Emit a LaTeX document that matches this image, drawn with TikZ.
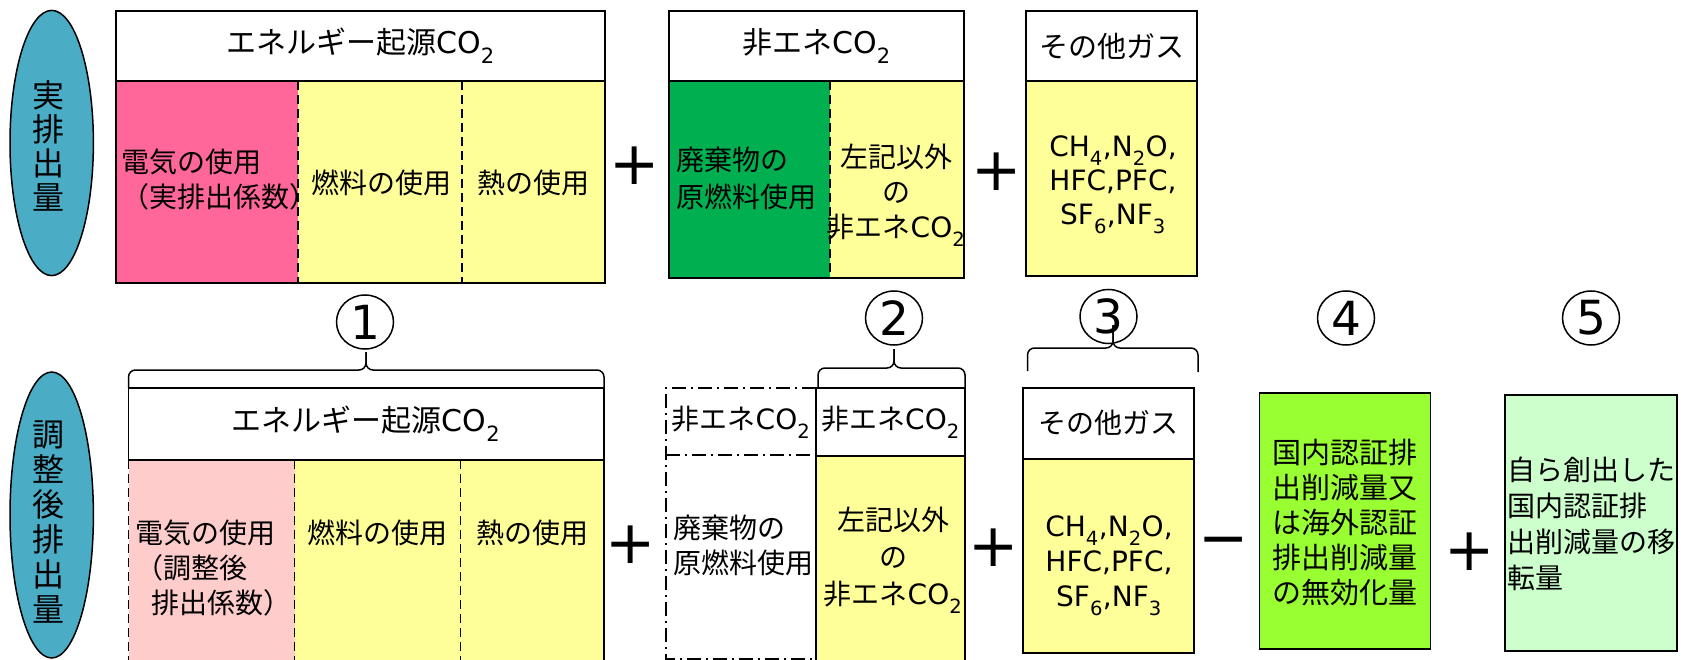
\documentclass[tikz,border=0pt]{standalone}
\usepackage{fontspec}
\usetikzlibrary{shapes.geometric}
\setmainfont{Noto Sans CJK JP}
\newfontfamily\lat{DejaVu Sans}
\definecolor{ellc}{HTML}{4BACC6}
\definecolor{pinkc}{HTML}{FF6699}
\definecolor{yelc}{HTML}{FFFF99}
\definecolor{greenc}{HTML}{00B050}
\definecolor{palepink}{HTML}{FFCCCC}
\definecolor{limec}{HTML}{99FF33}
\definecolor{mintc}{HTML}{CCFFCC}
\newcommand\sbs[1]{\raisebox{-0.1em}{\textsubscript{#1}}}
\begin{document}
\begin{tikzpicture}[x=1pt,y=-1pt,
  box/.style={draw=black,line width=1.8pt},
  dashln/.style={line width=1.5pt,dash pattern=on 9pt off 5pt},
  dashdotln/.style={line width=1.5pt,dash pattern=on 14pt off 5pt on 2pt off 5pt},
  lbl/.style={inner sep=0pt,font=\fontsize{28}{35}\selectfont},
  hdr/.style={inner sep=0pt,font=\fontsize{30}{36}\selectfont},
  hdrs/.style={inner sep=0pt,font=\fontsize{28}{34}\selectfont},
  gas/.style={inner sep=0pt,align=center,font=\lat\fontsize{28}{34}\selectfont},
  vert/.style={inner sep=0pt,align=center,font=\fontsize{32}{34}\selectfont},
  num/.style={ellipse,draw,line width=1.5pt,minimum width=57pt,minimum height=54pt,inner sep=0pt,font=\lat\fontsize{47}{47}\selectfont},
  op/.style={inner sep=0pt,font=\lat\fontsize{60}{60}\selectfont},
  bracel/.style={line width=1.5pt,rounded corners=7pt},
  oval/.style={line width=1.5pt,draw=black,fill=ellc}]
\useasboundingbox (0,0) rectangle (1681,660);
\clip (0,0) rectangle (1681,660);

% ===== top row =====
\draw[oval] (51.7,143) ellipse [x radius=41.7pt,y radius=132.6pt];
\node[vert] (ell1) at (48,146) {実\\排\\出\\量};

% energy CO2
\fill[yelc] (116,81) rectangle (605,283);
\fill[pinkc] (116,81) rectangle (298,283);
\draw[dashln] (298,81) -- (298,283);
\draw[dashln] (462,81) -- (462,283);
\draw[box] (116,11) rectangle (605,81);
\draw[box] (116,81) rectangle (605,283);
\node[hdr] (h1) at (360.5,46) {エネルギー起源{\lat CO\sbs{2}}};
\node[lbl,align=left,anchor=west] (e1a) at (121,180) {電気の使用\\（実排出係数）};
\node[lbl] (e1b) at (381,183) {燃料の使用};
\node[lbl] (e1c) at (533,183) {熱の使用};

\node[op] (p1) at (635,166) {+};

% non-energy CO2
\fill[yelc] (669,81) rectangle (964,278);
\fill[greenc] (669,81) rectangle (830,278);
\draw[dashln] (830,81) -- (830,278);
\draw[box] (669,11) rectangle (964,81);
\draw[box] (669,81) rectangle (964,278);
\node[hdr] (h2) at (816.5,46) {非エネ{\lat CO\sbs{2}}};
\node[lbl,align=left,anchor=west,font=\fontsize{28}{37}\selectfont] (n1a) at (676,178.5) {廃棄物の\\原燃料使用};
\node[lbl,align=center] (n1b) at (896,195) {左記以外\\の\\非エネ{\lat CO\sbs{2}}};

\node[op] (p2) at (997,172) {+};

% other gases
\fill[yelc] (1026,81) rectangle (1197,276);
\draw[box] (1026,11) rectangle (1197,81);
\draw[box] (1026,81) rectangle (1197,276);
\node[hdr,font=\fontsize{29}{34}\selectfont] (h3) at (1111.5,46) {その他ガス};
\node[gas] (g1) at (1113,185) {CH\sbs{4},N\sbs{2}O,\\HFC,PFC,\\SF\sbs{6},NF\sbs{3}};

% ===== numbers and braces =====
\node[num] (c1) at (365,322) {1};
\node[num] (c2) at (894,318) {2};
\node[num] (c3) at (1108.5,316.5) {3};
\node[num] (c4) at (1346,318) {4};
\node[num] (c5) at (1591,318) {5};

\draw[bracel] (128.5,388) -- (128.5,370) -- (366,370) -- (366,352);
\draw[bracel] (604,388) -- (604,370) -- (366,370) -- (366,352);
\draw[bracel] (818,387) -- (818,368) -- (894,368) -- (894,349);
\draw[bracel] (965,387) -- (965,368) -- (894,368) -- (894,349);
\draw[bracel] (1027.5,371) -- (1027.5,348) -- (1113,348) -- (1113,325);
\draw[bracel] (1198,372) -- (1198,348) -- (1113,348) -- (1113,325);

% ===== bottom row =====
\draw[oval] (51.7,515) ellipse [x radius=41.7pt,y radius=143pt];
\node[vert,font=\fontsize{32}{35}\selectfont] (ell2) at (48,522) {調\\整\\後\\排\\出\\量};

% energy CO2
\fill[yelc] (128.5,460) rectangle (604,680);
\fill[palepink] (128.5,460) rectangle (294.6,680);
\draw[box] (128.5,388) rectangle (604,460);
\draw[box] (604,460) -- (604,680);
\draw[dashln] (128.5,460) -- (128.5,680);
\draw[dashln] (294.6,460) -- (294.6,680);
\draw[dashln] (460.6,460) -- (460.6,680);
\node[hdr] (h4) at (366,424) {エネルギー起源{\lat CO\sbs{2}}};
\node[lbl,align=left,anchor=west] (e2a) at (135,568) {電気の使用\\（調整後\\\hspace*{16pt}排出係数）};
\node[lbl] (e2b) at (377.6,533) {燃料の使用};
\node[lbl] (e2c) at (532.3,533) {熱の使用};

\node[op] (p3) at (631,545) {+};

% non-energy dash-dot
\draw[dashdotln] (816,388) -- (666,388) -- (666,659) -- (816,659);
\draw[dashdotln] (666,455) -- (816,455);
\node[hdrs] (h5) at (741,422) {非エネ{\lat CO\sbs{2}}};
\node[lbl,align=left,anchor=west] (n2a) at (673,545) {廃棄物の\\原燃料使用};

% non-energy solid
\fill[yelc] (816,456) rectangle (965,680);
\draw[box] (816,388) rectangle (965,456);
\draw[box] (816,456) -- (816,680);
\draw[box] (965,456) -- (965,680);
\node[hdrs] (h6) at (890.5,422) {非エネ{\lat CO\sbs{2}}};
\node[lbl,align=center,font=\fontsize{28}{37}\selectfont] (n2b) at (893,560) {左記以外\\の\\非エネ{\lat CO\sbs{2}}};

\node[op] (p4) at (994,548) {+};

% other gases
\fill[yelc] (1023,459) rectangle (1194,653);
\draw[box] (1023,388) rectangle (1194,459);
\draw[box] (1023,459) rectangle (1194,653);
\node[hdrs] (h7) at (1108.5,423) {その他ガス};
\node[gas,font=\lat\fontsize{28}{35}\selectfont] (g2) at (1109,566) {CH\sbs{4},N\sbs{2}O,\\HFC,PFC,\\SF\sbs{6},NF\sbs{3}};

\node[op] (m1) at (1224,548) {−};

% (4)
\draw[box,fill=limec] (1259.5,393) rectangle (1430.5,649);
\node[lbl,align=left,font=\fontsize{29}{35}\selectfont] (t4) at (1345,523) {国内認証排\\出削減量又\\は海外認証\\排出削減量\\の無効化量};

\node[op] (p5) at (1470,552) {+};

% (5)
\draw[box,fill=mintc] (1505,395) rectangle (1677,651);
\node[lbl,align=left,anchor=west,font=\fontsize{28}{36}\selectfont] (t5) at (1507,524) {自ら創出した\\国内認証排\\出削減量の移\\転量};
\end{tikzpicture}
\end{document}
